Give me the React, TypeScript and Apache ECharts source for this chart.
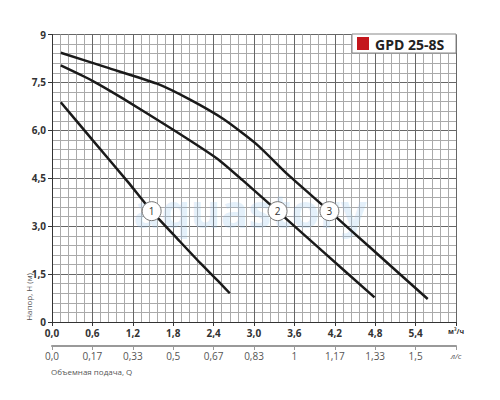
import React, { useEffect, useRef } from "react";
import * as echarts from "echarts";

const curve1: [number, number][] = [
  [0.13, 6.88], [0.6, 5.7], [1.13, 4.38], [1.48, 3.47], [1.9, 2.52], [2.2, 1.85], [2.45, 1.32], [2.64, 0.9],
];
const curve2: [number, number][] = [
  [0.13, 8.03], [0.6, 7.55], [1.05, 7.0], [1.8, 6.02], [2.45, 5.12], [2.83, 4.44], [3.35, 3.47], [4.0, 2.25], [4.79, 0.77],
];
const curve3: [number, number][] = [
  [0.13, 8.43], [0.81, 7.97], [1.56, 7.46], [2.05, 6.96], [2.54, 6.36], [3.04, 5.56], [3.5, 4.62], [4.12, 3.47], [4.8, 2.19], [5.58, 0.72],
];
const curveLabels: [number, number, string][] = [
  [1.48, 3.47, "1"], [3.35, 3.47, "2"], [4.12, 3.47, "3"],
];
const flowLsLabels = ["0,0", "0,17", "0,33", "0,5", "0,67", "0,83", "1", "1,17", "1,33", "1,5"];
const yTickLabels = ["0", "1,5", "3,0", "4,5", "6,0", "7,5", "9"];

const FONT = "'Open Sans', 'Noto Sans', sans-serif";

export default function App() {
  const ref = useRef<HTMLDivElement>(null);
  useEffect(() => {
    if (!ref.current) return;
    const chart = echarts.init(ref.current, null, { renderer: "svg" });
    const lineSeries = (data: [number, number][]) => ({
      type: "line",
      data,
      smooth: 0.2,
      showSymbol: false,
      symbol: "none",
      lineStyle: { color: "#1a1a1a", width: 2.5 },
      z: 3,
      xAxisIndex: 0,
      yAxisIndex: 0,
    });
    chart.setOption({
      animation: false,
      textStyle: { fontFamily: FONT },
      grid: { left: 52, right: 44, top: 34.5, bottom: 78, containLabel: false },
      xAxis: [
        {
          type: "value",
          min: 0,
          max: 6,
          interval: 0.6,
          position: "bottom",
          axisLine: { show: true, lineStyle: { color: "#333", width: 1 } },
          axisTick: { show: true, length: 4, lineStyle: { color: "#333" } },
          axisLabel: {
            margin: 6,
            fontSize: 10,
            fontWeight: "bold",
            color: "#333",
            fontFamily: FONT,
            formatter: (v: number) =>
              Math.round(v * 10) === 60 ? "{u|м³/ч}" : v.toFixed(1).replace(".", ","),
            rich: { u: { fontSize: 7, fontWeight: "bold", color: "#333", fontFamily: FONT } },
          },
          splitLine: { show: true, lineStyle: { color: "#666", width: 1 } },
          minorTick: { show: false, splitNumber: 5 },
          minorSplitLine: { show: true, lineStyle: { color: "#aaa", width: 1 } },
        },
        {
          type: "value",
          min: 0,
          max: 6,
          interval: 0.6,
          position: "bottom",
          offset: 24,
          axisLine: { show: true, lineStyle: { color: "#999", width: 2 } },
          axisTick: { show: true, length: 4, lineStyle: { color: "#999" } },
          axisLabel: {
            margin: 5,
            fontSize: 10,
            color: "#555",
            fontFamily: FONT,
            formatter: (v: number) => {
              const i = Math.round(v / 0.6);
              return i < flowLsLabels.length ? flowLsLabels[i] : "{u|л/с}";
            },
            rich: { u: { fontSize: 8, fontStyle: "italic", color: "#555", fontFamily: FONT } },
          },
          splitLine: { show: false },
        },
      ],
      yAxis: {
        type: "value",
        min: 0,
        max: 9,
        interval: 1.5,
        axisLine: { show: true, lineStyle: { color: "#333", width: 1 } },
        axisTick: { show: true, length: 4, lineStyle: { color: "#333" } },
        axisLabel: {
          margin: 6,
          fontSize: 10,
          fontWeight: "bold",
          color: "#333",
          fontFamily: FONT,
          formatter: (v: number) => yTickLabels[Math.round(v / 1.5)] ?? "",
        },
        splitLine: { show: true, lineStyle: { color: "#666", width: 1 } },
        minorTick: { show: false, splitNumber: 5 },
        minorSplitLine: { show: true, lineStyle: { color: "#aaa", width: 1 } },
      },
      graphic: [
        {
          type: "text",
          x: 250,
          y: 210,
          z: 1,
          silent: true,
          style: {
            text: "aquastory",
            fontSize: 46,
            fontWeight: "bold",
            fontFamily: FONT,
            fill: "rgba(150,195,235,0.25)",
            textAlign: "center",
            textVerticalAlign: "middle",
          },
        },
        {
          type: "rect",
          z: 10,
          shape: { x: 352, y: 34, width: 104, height: 19 },
          style: { fill: "#fff", stroke: "#888", lineWidth: 1 },
        },
        {
          type: "rect",
          z: 11,
          shape: { x: 357, y: 37, width: 12, height: 13 },
          style: { fill: "#c4161c" },
        },
        {
          type: "text",
          z: 11,
          x: 375,
          y: 44,
          style: {
            text: "GPD 25-8S",
            fontSize: 14,
            fontWeight: "bold",
            fontFamily: FONT,
            fill: "#222",
            textVerticalAlign: "middle",
          },
        },
        {
          type: "text",
          x: 28,
          y: 297,
          rotation: Math.PI / 2,
          style: {
            text: "Напор, H (м)",
            fontSize: 8,
            fontFamily: FONT,
            fill: "#555",
            textAlign: "center",
            textVerticalAlign: "middle",
          },
        },
        {
          type: "text",
          x: 51,
          y: 371,
          style: {
            text: "Объемная подача, Q",
            fontSize: 8,
            fontFamily: FONT,
            fill: "#555",
            textVerticalAlign: "middle",
          },
        },
      ],
      series: [
        lineSeries(curve1),
        lineSeries(curve2),
        lineSeries(curve3),
        {
          type: "scatter",
          xAxisIndex: 0,
          yAxisIndex: 0,
          z: 5,
          symbol: "circle",
          symbolSize: 19,
          data: curveLabels.map((d) => ({ value: [d[0], d[1]], name: d[2] })),
          itemStyle: { color: "#fff", borderColor: "#777", borderWidth: 1, opacity: 1 },
          label: {
            show: true,
            position: "inside",
            formatter: (p: any) => p.name,
            fontSize: 10,
            color: "#333",
            fontFamily: FONT,
          },
        },
      ],
    });
    return () => chart.dispose();
  }, []);
  return (
    <div
      ref={ref}
      style={{ position: "fixed", left: 0, top: 0, width: 500, height: 400, background: "#fff" }}
    />
  );
}
